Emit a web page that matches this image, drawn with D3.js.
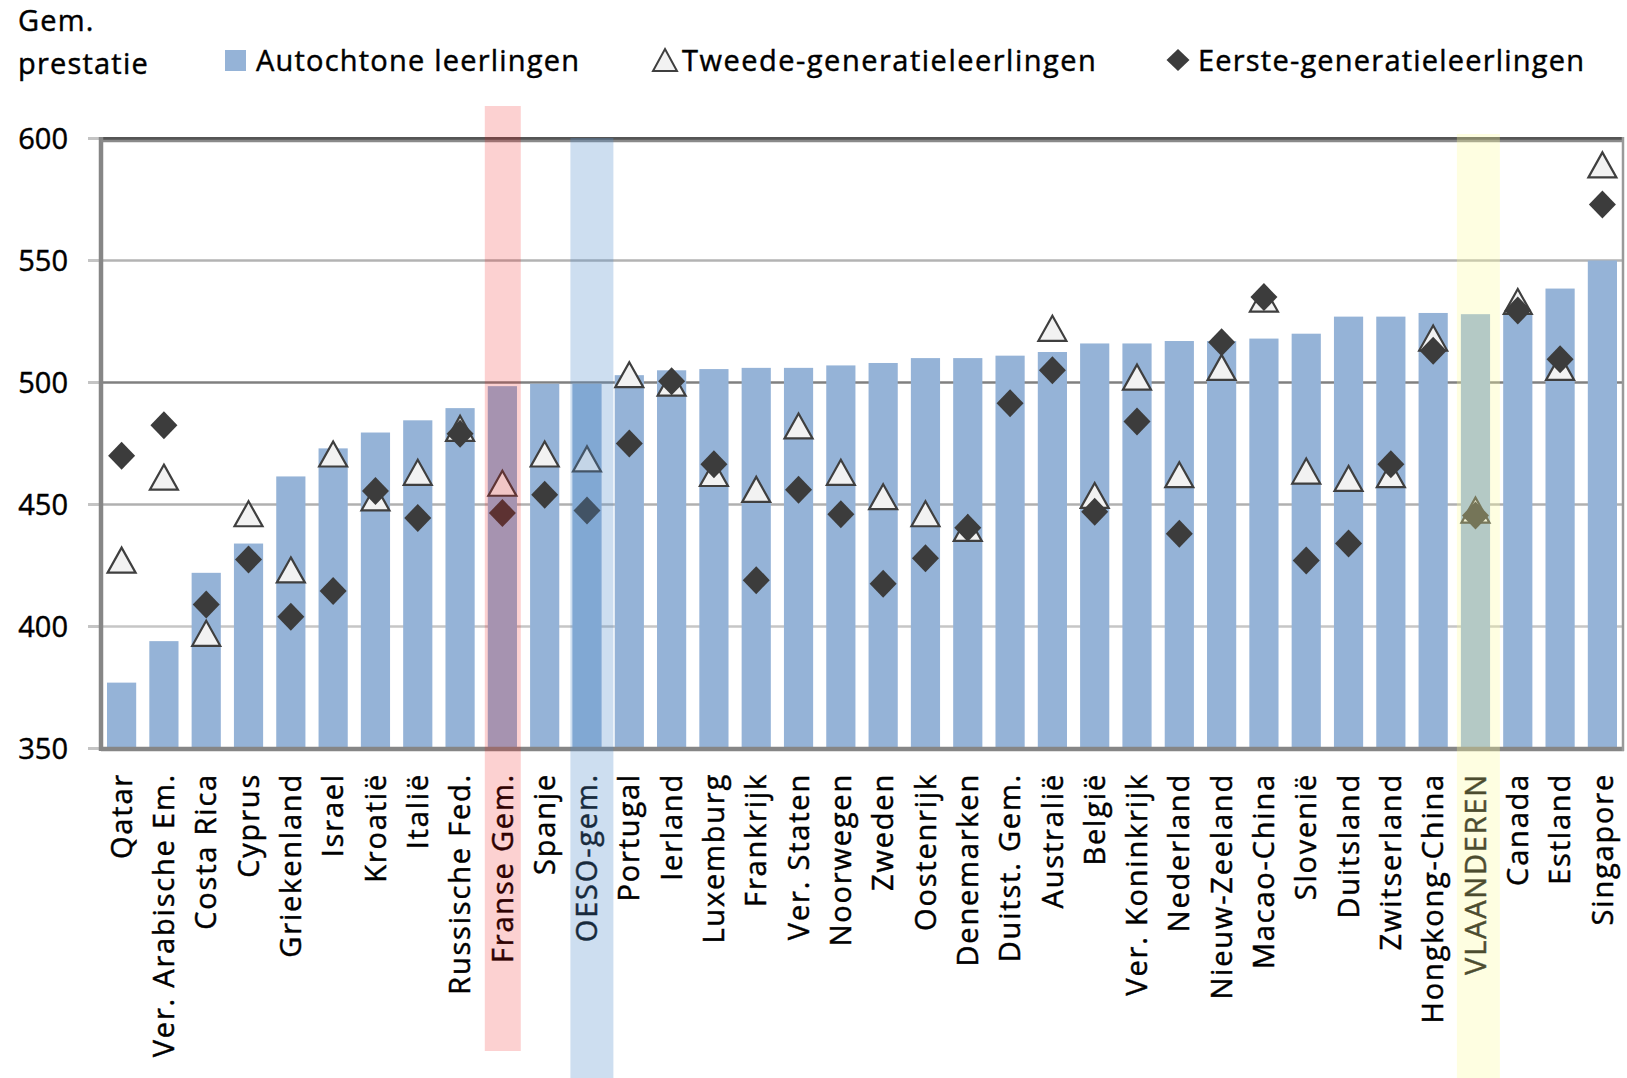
<!DOCTYPE html>
<html>
<head>
<meta charset="utf-8">
<script src="https://cdn.jsdelivr.net/npm/d3@7"></script>
<style>
  body { margin: 0; background: #fff; }
  svg text { font-family: "Open Sans", sans-serif; fill: #000; stroke: #000; stroke-width: 0.45px; }
</style>
</head>
<body>
<div id="container"></div>
<script>

let width = 1627;
let height = 1078;

// chart data
let categories = ["Qatar", "Ver. Arabische Em.", "Costa Rica", "Cyprus", "Griekenland", "Israel",
  "Kroatië", "Italië", "Russische Fed.", "Franse Gem.", "Spanje", "OESO-gem.", "Portugal",
  "Ierland", "Luxemburg", "Frankrijk", "Ver. Staten", "Noorwegen", "Zweden", "Oostenrijk",
  "Denemarken", "Duitst. Gem.", "Australië", "België", "Ver. Koninkrijk", "Nederland",
  "Nieuw-Zeeland", "Macao-China", "Slovenië", "Duitsland", "Zwitserland", "Hongkong-China",
  "VLAANDEREN", "Canada", "Estland", "Singapore"];

let autochtoon = [377, 394, 422, 434, 461.5, 473, 479.5, 484.5, 489.5, 498.5, 499.5, 499.5, 503,
  505, 505.5, 506, 506, 507, 508, 510, 510, 511, 512.5, 516, 516, 517, 517, 518, 520, 527, 527,
  528.5, 528, 528.5, 538.5, 550];

let tweedeGen = [427, 461, 397, 446, 423, 470.5, 452.5, 463, 481, 458.5, 470.5, 468.5, 503, 499.5,
  462.5, 456, 482, 463, 453, 446, 440, null, 522, 453.5, 502, 462, 506, 534, 463.5, 460.5, 462,
  518, 447.5, 533, 506, 589];

let eersteGen = [470, 482.5, 409, 427.5, 404, 414.5, 455.5, 444.5, 479, 446.5, 454, 447.5, 475,
  500.5, 466.5, 419, 456, 446, 417.5, 428, 440.5, 491.5, 505, 447, 484, 438, 516.5, 535, 427,
  434, 466.5, 513, 445.5, 529.5, 509.5, 573];

let yTicks = [350, 400, 450, 500, 550, 600];

let legendLabels = ["Autochtone leerlingen", "Tweede-generatieleerlingen", "Eerste-generatieleerlingen"];
let yTitle = ["Gem.", "prestatie"];

let highlights = ["Franse Gem.", "OESO-gem.", "VLAANDEREN"];

let plot = { left: 101, right: 1623, top: 138.5, bottom: 748.5 };

let svg = d3.select("#container")
  .append("svg")
  .attr("width", width)
  .attr("height", height);

let x = d3.scaleBand()
  .domain(categories)
  .range([plot.left, plot.right])
  .paddingInner(0.31)
  .paddingOuter(0.142);

let y = d3.scaleLinear()
  .domain([350, 600])
  .range([plot.bottom, plot.top]);

let gridColor = { 350: "#c4c4c4", 400: "#c6c6c6", 450: "#b0b0b0", 500: "#808080", 550: "#b3b3b3", 600: "#555555" };

// gridlines, behind bars
svg.append("g")
  .selectAll("line")
  .data(yTicks)
  .enter()
  .append("line")
  .attr("x1", plot.left)
  .attr("x2", plot.right)
  .attr("y1", d => y(d))
  .attr("y2", d => y(d))
  .attr("stroke", d => gridColor[d])
  .attr("stroke-width", d => d == 600 ? 3 : 2.5);

// little ticks left of the axis
svg.append("g")
  .selectAll("line")
  .data(yTicks)
  .enter()
  .append("line")
  .attr("x1", 88)
  .attr("x2", plot.left)
  .attr("y1", d => y(d))
  .attr("y2", d => y(d))
  .attr("stroke", "#c4c4c4")
  .attr("stroke-width", 3);

svg.append("g")
  .selectAll("text")
  .data(yTicks)
  .enter()
  .append("text")
  .attr("x", 68)
  .attr("y", d => y(d))
  .attr("dy", "0.35em")
  .attr("text-anchor", "end")
  .style("font-size", "29px")
  .text(d => d);

// bars
svg.append("g")
  .selectAll("rect")
  .data(categories)
  .enter()
  .append("rect")
  .attr("x", d => x(d))
  .attr("width", x.bandwidth())
  .attr("y", (d, i) => y(autochtoon[i]))
  .attr("height", (d, i) => y(350) - y(autochtoon[i]))
  .attr("fill", "#95b3d7");

// frame
svg.append("line")
  .attr("x1", plot.left).attr("x2", plot.left)
  .attr("y1", plot.top - 1.5).attr("y2", plot.bottom + 2.5)
  .attr("stroke", "#868686").attr("stroke-width", 4.5);
svg.append("line")
  .attr("x1", plot.left).attr("x2", plot.right + 1)
  .attr("y1", plot.bottom + 0.5).attr("y2", plot.bottom + 0.5)
  .attr("stroke", "#868686").attr("stroke-width", 4.5);
svg.append("line")
  .attr("x1", plot.left).attr("x2", plot.right + 1)
  .attr("y1", plot.top + 2.5).attr("y2", plot.top + 2.5)
  .attr("stroke", "#8a8a8a").attr("stroke-width", 2.5);
svg.append("line")
  .attr("x1", plot.right).attr("x2", plot.right)
  .attr("y1", plot.top - 1.5).attr("y2", plot.bottom + 2.5)
  .attr("stroke", "#9a9a9a").attr("stroke-width", 2.5);

let cx = d => x(d) + x.bandwidth() / 2;

// second generation: triangles
svg.append("g")
  .selectAll("path")
  .data(categories.filter((d, i) => tweedeGen[i] != null))
  .enter()
  .append("path")
  .attr("d", "M0,-13 L14,12 L-14,12 Z")
  .attr("transform", d => "translate(" + cx(d) + "," + y(tweedeGen[categories.indexOf(d)]) + ")")
  .attr("fill", "#f2f2f2")
  .attr("stroke", "#3f3f3f")
  .attr("stroke-width", 2.2)
  .attr("stroke-linejoin", "miter");

// first generation: diamonds
svg.append("g")
  .selectAll("path")
  .data(categories)
  .enter()
  .append("path")
  .attr("d", "M0,-14 L13.5,0 L0,14 L-13.5,0 Z")
  .attr("transform", (d, i) => "translate(" + cx(d) + "," + y(eersteGen[i]) + ")")
  .attr("fill", "#3c3c3c");

// category labels
svg.append("g")
  .selectAll("text")
  .data(categories)
  .enter()
  .append("text")
  .attr("transform", d => "translate(" + cx(d) + ",773) rotate(-90)")
  .attr("dy", "0.35em")
  .attr("text-anchor", "end")
  .style("font-size", "29px")
  .style("letter-spacing", "1.8px")
  .text(d => d);

// y title
svg.append("text").attr("x", 18).attr("y", 31)
  .style("font-size", "29px").style("letter-spacing", "1.2px").text(yTitle[0]);
svg.append("text").attr("x", 18).attr("y", 74)
  .style("font-size", "29px").style("letter-spacing", "1.2px").text(yTitle[1]);

// legend
let legend = svg.append("g");
legend.append("rect")
  .attr("x", 225).attr("y", 50).attr("width", 21).attr("height", 21)
  .attr("fill", "#95b3d7");
legend.append("path")
  .attr("d", "M0,-11 L12,11 L-12,11 Z")
  .attr("transform", "translate(665,60)")
  .attr("fill", "#f2f2f2").attr("stroke", "#3f3f3f").attr("stroke-width", 2);
legend.append("path")
  .attr("d", "M0,-11 L11.5,0 L0,11 L-11.5,0 Z")
  .attr("transform", "translate(1178,60)")
  .attr("fill", "#3c3c3c");

let legendX = [256, 682, 1198];
legend.selectAll("text")
  .data(legendLabels)
  .enter()
  .append("text")
  .attr("x", (d, i) => legendX[i])
  .attr("y", 71)
  .style("font-size", "29px")
  .style("letter-spacing", (d, i) => i == 1 ? "1.5px" : "1.2px")
  .text(d => d);

// highlight bands on top of everything
let bandStyle = {
  "Franse Gem.": { fill: "rgb(240,8,8)", opacity: 0.19, dx: -3, w: 36, top: 106, bottom: 1051 },
  "OESO-gem.": { fill: "rgb(84,140,205)", opacity: 0.29, dx: -2, w: 43, top: 138, bottom: 1078 },
  "VLAANDEREN": { fill: "rgb(252,252,155)", opacity: 0.3, dx: -4, w: 43, top: 134, bottom: 1078 }
};

svg.append("g")
  .selectAll("rect")
  .data(highlights)
  .enter()
  .append("rect")
  .attr("x", d => x(d) + bandStyle[d].dx)
  .attr("width", d => bandStyle[d].w)
  .attr("y", d => bandStyle[d].top)
  .attr("height", d => bandStyle[d].bottom - bandStyle[d].top)
  .attr("fill", d => bandStyle[d].fill)
  .attr("fill-opacity", d => bandStyle[d].opacity);

</script>
</body>
</html>
